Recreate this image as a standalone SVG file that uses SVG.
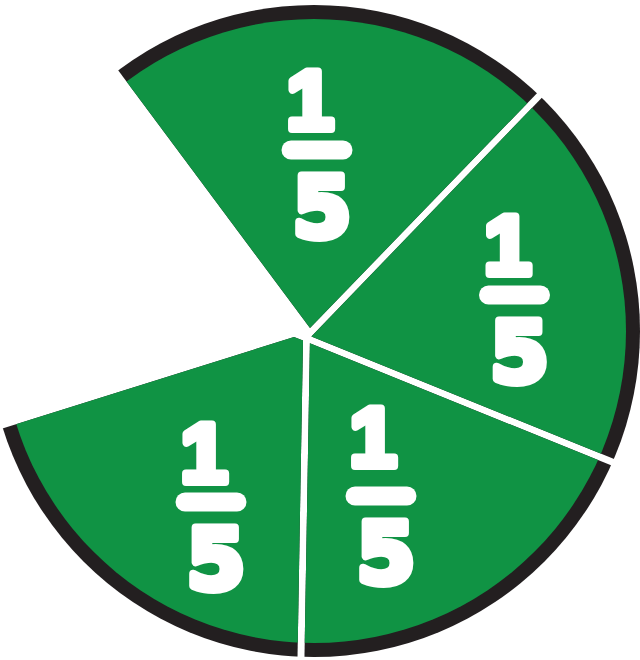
<svg xmlns="http://www.w3.org/2000/svg" xmlns:xlink="http://www.w3.org/1999/xlink" width="640" height="660" viewBox="0 0 640 660">
  <style>
    .num { fill: #ffffff; stroke: #ffffff; stroke-width: 8; stroke-linejoin: round; font-weight: bold; font-size: 84px; text-anchor: middle; }
    .one { font-family: "Liberation Sans", Arial, sans-serif; }
    .five { font-family: "DejaVu Sans", "Liberation Sans", sans-serif; }
    .bar { fill: #ffffff; }
  </style>
  <defs>
    <g id="disc">
      <circle cx="314" cy="331" r="326" fill="#231F20"/>
      <circle cx="314" cy="331" r="312" fill="#109344"/>
    </g>
    <clipPath id="c-top"><polygon points="310,328 -287,-474 314,-900 1005,-391"/></clipPath>
    <clipPath id="c-right"><polygon points="311.4,336.4 1006,-383 1300,340 1238,712"/></clipPath>
    <clipPath id="c-br"><polygon points="309.9,343.3 1237,719 900,1100 292.6,1343"/></clipPath>
    <clipPath id="c-bl"><polygon points="294,337 303,340.5 285.7,1338 -300,1000 -660,636"/></clipPath>
  </defs>
  <rect width="640" height="660" fill="#ffffff"/>

  <g id="slice-top">
    <use xlink:href="#disc" clip-path="url(#c-top)"/>
    <text class="num one" x="310" y="129">1</text>
    <rect class="bar" x="281.5" y="140.5" width="71" height="19" rx="9.5"/>
    <text class="num five" x="322" y="237">5</text>
  </g>

  <g id="slice-right">
    <use xlink:href="#disc" clip-path="url(#c-right)"/>
    <text class="num one" x="507.5" y="274">1</text>
    <rect class="bar" x="479" y="285.5" width="71" height="19" rx="9.5"/>
    <text class="num five" x="519.5" y="382">5</text>
  </g>

  <g id="slice-bottom-right">
    <use xlink:href="#disc" clip-path="url(#c-br)"/>
    <text class="num one" x="373" y="466">1</text>
    <rect class="bar" x="345.5" y="486.5" width="71" height="19" rx="9.5"/>
    <text class="num five" x="386" y="583">5</text>
  </g>

  <g id="slice-bottom-left">
    <use xlink:href="#disc" clip-path="url(#c-bl)"/>
    <text class="num one" x="204" y="482">1</text>
    <rect class="bar" x="175.5" y="492.5" width="71" height="19" rx="9.5"/>
    <text class="num five" x="216" y="589">5</text>
  </g>
</svg>
